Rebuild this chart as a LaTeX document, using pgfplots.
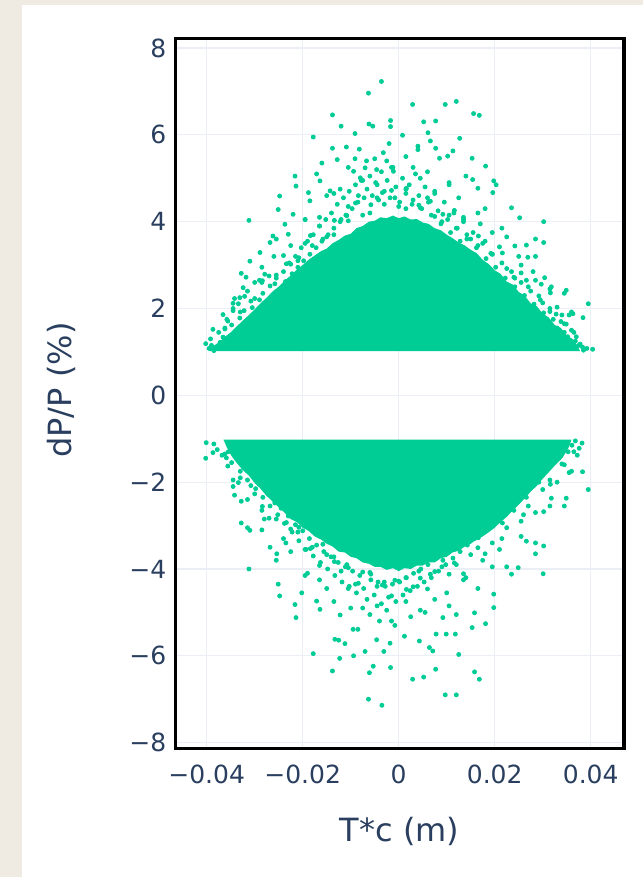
\documentclass[border=0pt]{standalone}
\usepackage{fontspec}
\setmainfont{DejaVu Sans}
\usepackage{pgfplots}
\pgfplotsset{compat=1.18}
\definecolor{pgreen}{HTML}{00CC96}
\definecolor{ptext}{HTML}{2A3F5F}
\definecolor{pbeige}{HTML}{EFEBE3}
\definecolor{pgrid}{HTML}{EBEEF5}
\begin{document}
\begin{tikzpicture}
\fill[pbeige] (-87.65pt,-64.15pt) rectangle (233.85pt,374.35pt);
\fill[white] (-76.65pt,-64.15pt) rectangle (233.85pt,371.85pt);
\begin{axis}[
  at={(0pt,0pt)}, anchor=south west,
  scale only axis, width=224.35pt, height=355.1pt,
  xmin=-0.04654, xmax=0.04694, ymin=-8.14, ymax=8.22,
  xtick={-0.04,-0.02,0,0.02,0.04}, xticklabels={−0.04,−0.02,0,0.02,0.04},
  ytick={-8,-6,-4,-2,0,2,4,6,8}, yticklabels={−8,−6,−4,−2,0,2,4,6,8},
  grid=major, major grid style={pgrid, line width=0.6pt},
  major tick length=0pt,
  axis line style={line width=1.6pt, black},
  tick label style={font=\fontsize{12.5}{14}\selectfont, text=ptext},
  xticklabel style={anchor=base, yshift=-17.3pt, inner sep=0pt},
  yticklabel style={anchor=east, xshift=-4.3pt, inner sep=0pt},
  xlabel={T*c (m)}, ylabel={dP/P (\%)},
  label style={font=\fontsize{16}{19}\selectfont, text=ptext},
  xlabel style={at={(axis description cs:0.5,-0.131)}, anchor=base},
  ylabel style={at={(axis description cs:-0.2547,0.505)}, anchor=center},
  scaled x ticks=false,
]
% upper dense core
\addplot[fill=pgreen, draw=none] coordinates {
(-0.0395,1.02) (0.0378,1.02)
(0.0372,1.15) (0.0362,1.30) (0.0350,1.38) (0.0338,1.55) (0.0325,1.62) (0.0312,1.80) (0.0300,1.88) (0.0288,2.05) (0.0275,2.12) (0.0262,2.30) (0.0250,2.38) (0.0238,2.55) (0.0225,2.62) (0.0212,2.80) (0.0200,2.88) (0.0188,3.02) (0.0175,3.12) (0.0162,3.28) (0.0150,3.35) (0.0138,3.45) (0.0125,3.52) (0.0112,3.62) (0.0100,3.70) (0.0088,3.80) (0.0075,3.85) (0.0062,3.95) (0.0050,3.98) (0.0038,4.06) (0.0025,4.05) (0.0012,4.12) (0.0000,4.08) (-0.0012,4.14) (-0.0025,4.08) (-0.0038,4.10) (-0.0050,4.02) (-0.0062,4.00) (-0.0075,3.90) (-0.0088,3.85) (-0.0100,3.72) (-0.0112,3.68) (-0.0125,3.58) (-0.0138,3.50) (-0.0150,3.38) (-0.0162,3.32) (-0.0175,3.22) (-0.0188,3.12) (-0.0200,3.00) (-0.0212,2.90) (-0.0225,2.76) (-0.0238,2.64) (-0.0250,2.50) (-0.0262,2.40) (-0.0275,2.25) (-0.0288,2.12) (-0.0300,1.98) (-0.0312,1.85) (-0.0325,1.72) (-0.0338,1.58) (-0.0350,1.45) (-0.0362,1.35) (-0.0375,1.22) (-0.0388,1.12)
} -- cycle;
% lower dense core
\addplot[fill=pgreen, draw=none] coordinates {
(-0.0365,-1.02) (0.0360,-1.02)
(0.0355,-1.18) (0.0348,-1.32) (0.0338,-1.48) (0.0325,-1.62) (0.0312,-1.78) (0.0300,-1.92) (0.0288,-2.08) (0.0275,-2.22) (0.0262,-2.38) (0.0250,-2.52) (0.0238,-2.65) (0.0225,-2.80) (0.0212,-2.92) (0.0200,-3.05) (0.0188,-3.15) (0.0175,-3.25) (0.0162,-3.32) (0.0150,-3.42) (0.0138,-3.48) (0.0125,-3.58) (0.0112,-3.62) (0.0100,-3.72) (0.0088,-3.75) (0.0075,-3.85) (0.0062,-3.85) (0.0050,-3.92) (0.0038,-3.92) (0.0025,-4.00) (0.0012,-3.98) (0.0000,-4.05) (-0.0012,-3.98) (-0.0025,-4.02) (-0.0038,-3.95) (-0.0050,-3.95) (-0.0062,-3.88) (-0.0075,-3.85) (-0.0088,-3.75) (-0.0100,-3.72) (-0.0112,-3.62) (-0.0125,-3.60) (-0.0138,-3.48) (-0.0150,-3.42) (-0.0162,-3.32) (-0.0175,-3.25) (-0.0188,-3.12) (-0.0200,-3.05) (-0.0212,-2.92) (-0.0225,-2.85) (-0.0238,-2.70) (-0.0250,-2.58) (-0.0262,-2.45) (-0.0275,-2.32) (-0.0288,-2.15) (-0.0300,-2.02) (-0.0312,-1.85) (-0.0325,-1.72) (-0.0338,-1.55) (-0.0348,-1.40) (-0.0358,-1.20)
} -- cycle;
% upper cloud points
\addplot[only marks, mark=*, mark size=1.0pt, pgreen, mark options={fill=pgreen, draw=none}] coordinates {
(-0.0375,1.45) (-0.0362,1.55) (-0.0348,1.62) (-0.0340,1.48) (-0.0331,1.78) (-0.0322,1.95) (-0.0318,1.70) (-0.0305,2.02) (-0.0296,1.88) (-0.0290,2.20) (-0.0283,2.35) (-0.0275,2.10) (-0.0268,2.52) (-0.0260,2.30) (-0.0255,2.70) (-0.0248,2.45) (-0.0240,2.85) (-0.0236,2.62) (-0.0228,3.05) (-0.0222,2.80) (-0.0215,3.20) (-0.0210,2.95) (-0.0203,3.40) (-0.0198,3.10) (-0.0190,3.55) (-0.0185,3.25) (-0.0178,3.70) (-0.0172,3.40) (-0.0165,3.90) (-0.0160,3.55) (-0.0152,4.05) (-0.0147,3.70) (-0.0140,4.20) (-0.0135,3.85) (-0.0128,4.40) (-0.0122,4.00) (-0.0115,4.55) (-0.0110,4.15) (-0.0103,4.70) (-0.0097,4.30) (-0.0090,4.85) (-0.0085,4.45) (-0.0078,4.95) (-0.0072,4.55) (-0.0066,4.75) (-0.0060,5.05) (-0.0055,4.60) (-0.0048,4.90) (-0.0042,4.50) (-0.0036,5.15) (-0.0030,4.70) (-0.0024,4.95) (-0.0018,4.55) (-0.0012,5.25) (-0.0006,4.80)
(0.0002,4.45) (0.0008,5.00) (0.0015,4.65) (0.0022,4.85) (0.0028,4.40) (0.0035,5.10) (0.0042,4.60) (0.0048,4.30) (0.0055,4.80) (0.0062,4.45) (0.0068,4.15) (0.0075,4.65) (0.0082,4.25) (0.0088,3.95) (0.0095,4.45) (0.0102,4.05) (0.0108,3.75) (0.0115,4.20) (0.0122,3.85) (0.0128,3.55) (0.0135,4.00) (0.0142,3.60) (0.0148,3.30) (0.0155,3.75) (0.0162,3.40) (0.0168,3.05) (0.0175,3.50) (0.0182,3.15) (0.0188,2.85) (0.0195,3.25) (0.0202,2.95) (0.0208,2.65) (0.0215,3.05) (0.0222,2.70) (0.0228,2.45) (0.0235,2.85) (0.0242,2.50) (0.0248,2.25) (0.0255,2.60) (0.0262,2.30) (0.0268,2.05) (0.0275,2.40) (0.0282,2.10) (0.0288,1.85) (0.0295,2.20) (0.0302,1.90) (0.0308,1.70) (0.0315,2.00) (0.0322,1.75) (0.0330,1.55) (0.0338,1.70) (0.0345,1.45) (0.0352,1.35) (0.0360,1.50) (0.0368,1.25) (0.0375,1.15)
(-0.0395,1.08) (-0.0390,1.15) (-0.0380,1.10) (-0.0372,1.22) (-0.0392,1.30) (0.0385,1.04) (0.0392,1.08) (0.0378,1.18) (0.0370,1.35) (0.0362,1.10)
(-0.0362,1.53) (-0.0345,1.95) (-0.0330,1.92) (-0.0315,2.40) (-0.0300,2.23) (-0.0285,2.60) (-0.0270,2.75) (-0.0255,2.77) (-0.0240,3.22) (-0.0225,3.02) (-0.0210,3.10) (-0.0195,3.50) (-0.0180,3.45) (-0.0165,3.90) (-0.0150,3.65) (-0.0135,3.70) (-0.0120,4.05) (-0.0105,4.02) (-0.0090,4.43) (-0.0075,4.15) (-0.0060,4.20) (-0.0045,4.55) (-0.0030,4.40) (-0.0015,4.72) (0.0000,4.35) (0.0015,4.30) (0.0030,4.50) (0.0045,4.32) (0.0060,4.55) (0.0075,4.12) (0.0090,4.00) (0.0105,4.15) (0.0120,3.85) (0.0135,4.05) (0.0150,3.60) (0.0165,3.45) (0.0180,3.55) (0.0195,3.25) (0.0210,3.42) (0.0225,2.92) (0.0240,2.72) (0.0255,2.82) (0.0270,2.50) (0.0285,2.65) (0.0300,2.13) (0.0315,1.93) (0.0330,2.03) (0.0345,1.65) (0.0355,1.85) (0.0365,1.45)
(-0.0345,2.12) (-0.0318,2.72) (-0.0285,2.95) (-0.0255,3.60) (-0.0225,3.45) (-0.0195,4.05) (-0.0165,4.10) (-0.0135,4.65) (-0.0105,4.35) (-0.0075,4.95) (-0.0045,4.85) (-0.0015,5.25) (0.0015,4.75) (0.0045,5.00) (0.0075,4.70) (0.0105,4.85) (0.0135,4.10) (0.0165,4.20) (0.0195,3.75) (0.0225,3.65) (0.0255,3.00) (0.0285,3.20) (0.0315,2.45) (0.0345,2.35)
(-0.0358,1.75) (-0.0334,2.11) (-0.0308,2.17) (-0.0284,2.64) (-0.0258,2.57) (-0.0234,3.03) (-0.0208,3.17) (-0.0184,3.68) (-0.0158,3.60) (-0.0134,4.03) (-0.0108,4.14) (-0.0084,4.60) (-0.0058,4.39) (-0.0034,4.67) (-0.0008,4.55) (0.0016,4.77) (0.0042,4.38) (0.0066,4.47) (0.0092,4.17) (0.0116,4.26) (0.0142,3.70) (0.0166,3.67) (0.0192,3.27) (0.0216,3.28) (0.0242,2.70) (0.0266,2.65) (0.0292,2.29) (0.0316,2.36) (0.0340,1.85) (0.0360,1.92)
(-0.0036,7.23) (-0.0063,6.96) (-0.0138,6.46) (-0.0120,6.20) (-0.0062,6.25) (-0.0054,6.20) (-0.0017,6.33) (-0.0017,6.19) (-0.0178,5.95) (-0.0091,6.03) (-0.0138,5.69) (-0.0109,5.72) (-0.0082,5.67) (-0.0032,5.59) (-0.0128,5.43) (-0.0091,5.45) (-0.0067,5.40) (-0.0050,5.45) (-0.0025,5.40) (-0.0011,5.16) (-0.0171,5.10) (-0.0164,4.94) (-0.0143,4.71) (-0.0122,4.75) (-0.0094,5.16) (-0.0080,5.01) (-0.0070,5.24) (-0.0046,5.20) (-0.0216,5.05) (-0.0214,4.82) (-0.0188,4.67) (-0.0185,4.48) (-0.0248,4.59) (-0.0251,4.28) (-0.0237,3.94) (-0.0220,4.17) (-0.0230,3.71) (-0.0312,4.03) (-0.0262,3.67) (-0.0268,3.52) (-0.0289,3.29) (-0.0310,3.09) (-0.0328,2.81) (-0.0324,2.48) (-0.0300,2.60) (-0.0279,2.79) (-0.0342,2.23) (-0.0331,2.25) (-0.0321,2.28) (-0.0366,1.86) (-0.0356,1.71) (-0.0387,1.52) (-0.0402,1.19) (-0.0366,1.34) (-0.0352,1.25) (-0.0385,1.03)
(0.0029,6.70) (0.0097,6.70) (0.0120,6.77) (0.0156,6.49) (0.0168,6.45) (0.0052,6.30) (0.0077,6.32) (0.0061,6.05) (0.0066,5.86) (0.0127,5.92) (0.0008,5.99) (0.0040,5.74) (0.0040,5.66) (0.0077,5.69) (0.0113,5.63) (0.0153,5.46) (0.0181,5.28) (0.0085,5.46) (0.0102,5.51) (0.0198,4.94) (0.0203,4.85) (0.0196,4.67) (0.0154,4.97) (0.0165,4.77) (0.0235,4.32) (0.0252,4.09) (0.0302,4.00) (0.0285,3.60) (0.0302,3.52) (0.0266,3.46) (0.0269,3.18) (0.0242,3.44) (0.0318,2.50) (0.0349,2.42) (0.0304,2.71) (0.0297,2.56) (0.0363,1.88) (0.0384,1.79) (0.0395,2.11) (0.0404,1.06) (0.0383,1.11) (0.0349,1.64) (0.0328,1.87)
(0.0015,5.50) (-0.0020,5.80) (0.0030,5.25) (0.0060,5.15) (0.0125,4.55) (0.0140,5.05) (0.0105,4.90) (0.0180,4.30) (0.0215,3.85) (0.0170,3.95) (0.0250,3.20) (0.0280,2.85) (-0.0195,4.05) (-0.0150,4.60) (-0.0260,3.20) (-0.0290,2.65) (-0.0345,2.00) (-0.0105,5.25) (-0.0160,5.35)
};
% lower cloud points
\addplot[only marks, mark=*, mark size=1.0pt, pgreen, mark options={fill=pgreen, draw=none}] coordinates {
(-0.0385,-1.12) (-0.0378,-1.25) (-0.0368,-1.38) (-0.0355,-1.30) (-0.0348,-1.55) (-0.0338,-1.45) (-0.0330,-1.75) (-0.0322,-1.60) (-0.0315,-1.95) (-0.0306,-1.80) (-0.0298,-2.15) (-0.0290,-2.00) (-0.0283,-2.35) (-0.0275,-2.20) (-0.0268,-2.55) (-0.0260,-2.40) (-0.0252,-2.75) (-0.0245,-2.60) (-0.0238,-2.95) (-0.0230,-2.78) (-0.0222,-3.15) (-0.0215,-2.98) (-0.0208,-3.35) (-0.0200,-3.12) (-0.0193,-3.55) (-0.0186,-3.30) (-0.0178,-3.70) (-0.0171,-3.45) (-0.0163,-3.85) (-0.0156,-3.60) (-0.0148,-4.00) (-0.0141,-3.72) (-0.0133,-4.15) (-0.0126,-3.85) (-0.0118,-4.30) (-0.0111,-3.95) (-0.0103,-4.40) (-0.0096,-4.05) (-0.0088,-4.55) (-0.0081,-4.15) (-0.0073,-4.45) (-0.0066,-4.70) (-0.0058,-4.25) (-0.0051,-4.60) (-0.0043,-4.30) (-0.0036,-4.80) (-0.0028,-4.40) (-0.0021,-4.65) (-0.0013,-4.35) (-0.0006,-4.75)
(0.0002,-4.30) (0.0009,-4.60) (0.0016,-4.20) (0.0024,-4.50) (0.0031,-4.10) (0.0039,-4.40) (0.0046,-4.00) (0.0053,-4.30) (0.0061,-3.90) (0.0068,-4.20) (0.0076,-3.75) (0.0083,-4.05) (0.0091,-3.60) (0.0098,-3.90) (0.0106,-3.45) (0.0113,-3.75) (0.0121,-3.30) (0.0128,-3.60) (0.0136,-3.15) (0.0143,-3.45) (0.0151,-3.00) (0.0158,-3.30) (0.0166,-2.85) (0.0173,-3.15) (0.0181,-2.70) (0.0188,-3.00) (0.0196,-2.55) (0.0203,-2.85) (0.0211,-2.40) (0.0218,-2.65) (0.0226,-2.25) (0.0233,-2.50) (0.0241,-2.05) (0.0248,-2.35) (0.0256,-1.90) (0.0263,-2.15) (0.0271,-1.75) (0.0278,-2.00) (0.0286,-1.60) (0.0293,-1.85) (0.0301,-1.45) (0.0308,-1.70) (0.0316,-1.30) (0.0323,-1.55) (0.0331,-1.20) (0.0338,-1.40) (0.0346,-1.10) (0.0353,-1.30) (0.0361,-1.15) (0.0368,-1.05) (0.0376,-1.22) (0.0382,-1.10) (0.0372,-1.38)
(-0.0362,-1.35) (-0.0345,-1.95) (-0.0330,-1.90) (-0.0315,-2.40) (-0.0300,-2.27) (-0.0285,-2.65) (-0.0270,-2.83) (-0.0255,-2.85) (-0.0240,-3.30) (-0.0225,-3.08) (-0.0210,-3.15) (-0.0195,-3.55) (-0.0180,-3.50) (-0.0165,-3.92) (-0.0150,-3.67) (-0.0135,-3.72) (-0.0120,-4.05) (-0.0105,-3.97) (-0.0090,-4.35) (-0.0075,-4.07) (-0.0060,-4.08) (-0.0045,-4.40) (-0.0030,-4.30) (-0.0015,-4.62) (0.0000,-4.28) (0.0015,-4.20) (0.0030,-4.41) (0.0045,-4.21) (0.0060,-4.46) (0.0075,-4.06) (0.0090,-3.95) (0.0105,-4.12) (0.0120,-3.90) (0.0135,-4.11) (0.0150,-3.67) (0.0165,-3.51) (0.0180,-3.65) (0.0195,-3.40) (0.0210,-3.55) (0.0225,-3.05) (0.0240,-2.65) (0.0255,-2.90) (0.0270,-2.55) (0.0285,-2.70) (0.0300,-2.17) (0.0315,-1.95) (0.0330,-2.00) (0.0345,-1.60) (0.0355,-1.78) (0.0365,-1.30)
(-0.0345,-2.10) (-0.0315,-3.05) (-0.0285,-3.10) (-0.0255,-3.80) (-0.0225,-3.60) (-0.0195,-4.15) (-0.0165,-4.25) (-0.0135,-4.75) (-0.0105,-4.45) (-0.0075,-4.90) (-0.0045,-4.85) (-0.0015,-5.20) (0.0015,-4.75) (0.0045,-4.95) (0.0075,-4.70) (0.0105,-4.85) (0.0135,-4.25) (0.0165,-4.45) (0.0195,-3.95) (0.0225,-3.95) (0.0255,-3.25) (0.0285,-3.40) (0.0315,-2.55) (0.0345,-2.55)
(-0.0356,-1.63) (-0.0334,-2.01) (-0.0308,-2.08) (-0.0284,-2.56) (-0.0258,-2.48) (-0.0234,-2.93) (-0.0208,-3.04) (-0.0184,-3.53) (-0.0158,-3.43) (-0.0134,-3.83) (-0.0108,-3.90) (-0.0084,-4.33) (-0.0058,-4.12) (-0.0034,-4.37) (-0.0008,-4.26) (0.0016,-4.47) (0.0042,-4.05) (0.0066,-4.12) (0.0092,-3.80) (0.0116,-3.86) (0.0142,-3.31) (0.0166,-3.28) (0.0192,-2.92) (0.0216,-2.94) (0.0242,-2.38) (0.0266,-2.35) (0.0292,-2.00) (0.0316,-2.05) (0.0340,-1.58) (0.0360,-1.75)
(-0.0312,-4.00) (-0.0328,-2.94) (-0.0310,-3.11) (-0.0342,-2.30) (-0.0328,-2.44) (-0.0268,-3.50) (-0.0254,-3.65) (-0.0251,-4.35) (-0.0248,-4.62) (-0.0214,-5.12) (-0.0216,-4.82) (-0.0202,-4.55) (-0.0178,-5.95) (-0.0138,-6.35) (-0.0123,-6.06) (-0.0133,-5.62) (-0.0125,-5.64) (-0.0112,-5.72) (-0.0094,-6.00) (-0.0095,-5.39) (-0.0085,-5.39) (-0.0063,-7.00) (-0.0035,-7.14) (-0.0061,-6.39) (-0.0053,-6.24) (-0.0017,-6.27) (-0.0031,-5.90) (-0.0018,-5.71) (-0.0070,-5.90) (-0.0046,-5.63) (-0.0122,-5.06) (-0.0164,-4.93) (-0.0171,-4.74) (-0.0401,-1.09) (-0.0402,-1.45) (-0.0387,-1.32) (-0.0359,-1.44)
(0.0395,-2.17) (0.0383,-1.76) (0.0349,-2.37) (0.0318,-2.37) (0.0302,-2.68) (0.0302,-3.47) (0.0301,-4.11) (0.0285,-3.65) (0.0266,-3.36) (0.0235,-4.12) (0.0249,-3.97) (0.0198,-4.58) (0.0198,-4.89) (0.0181,-5.26) (0.0153,-5.35) (0.0158,-5.01) (0.0125,-5.97) (0.0158,-6.37) (0.0168,-6.54) (0.0077,-6.31) (0.0052,-6.49) (0.0029,-6.54) (0.0097,-6.90) (0.0120,-6.90) (0.0078,-5.50) (0.0099,-5.50) (0.0118,-5.50) (0.0064,-5.81) (0.0071,-5.89) (0.0043,-5.66) (0.0120,-5.05) (0.0092,-5.12)
(-0.0008,-5.30) (0.0012,-5.55) (0.0025,-5.10) (-0.0040,-5.20) (0.0055,-5.00) (-0.0025,-4.95) (0.0140,-4.20) (0.0175,-3.80) (0.0100,-4.55) (0.0215,-3.30) (0.0260,-2.75) (-0.0150,-4.45) (-0.0190,-4.10) (-0.0235,-3.40) (-0.0280,-2.85) (-0.0100,-4.90) (-0.0060,-5.05)
};
\end{axis}
\end{tikzpicture}
\end{document}
